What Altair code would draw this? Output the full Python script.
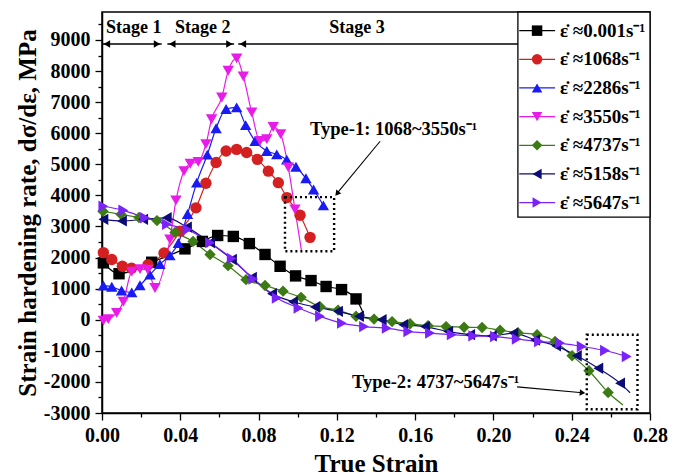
import altair as alt
import pandas as pd

# ---------------- data ----------------
series = ["0.001", "1068", "2286", "3550", "4737", "5158", "5647"]
colors = ["#000000", "#D42020", "#1A1AF5", "#E81CE8", "#3C7A14", "#0C0C78", "#7A22FA"]
shapes = ["square", "circle", "triangle-up", "triangle-down", "diamond",
          "triangle-left", "triangle-right"]

strain_0001 = [0.0007, 0.0087, 0.0254, 0.0424, 0.0513, 0.0591, 0.0671, 0.0753, 0.0833,
               0.0910, 0.0989, 0.1068, 0.1145, 0.1224, 0.1298, 0.1340]
rate_0001 = [1830, 1480, 1850, 2280, 2520, 2710, 2680, 2450, 2100,
             1720, 1410, 1260, 1070, 970, 670, 130]

strain_1068 = [0.0007, 0.0050, 0.0104, 0.0151, 0.0235, 0.0317, 0.0400, 0.0480, 0.0531,
               0.0583, 0.0634, 0.0688, 0.0739, 0.0794, 0.0850, 0.0901, 0.0945, 0.1012, 0.1063]
rate_1068 = [2160, 1940, 1720, 1660, 1770, 2150, 2850, 3600, 4390,
             5060, 5430, 5480, 5380, 5160, 4780, 4410, 3930, 3360, 2650]

strain_2286 = [0.0007, 0.0050, 0.0100, 0.0152, 0.0194, 0.0245, 0.0296, 0.0347, 0.0390,
               0.0437, 0.0484, 0.0538, 0.0583, 0.0634, 0.0688, 0.0734, 0.0782, 0.0842,
               0.0893, 0.0944, 0.0991, 0.1042, 0.1081, 0.1131]
rate_2286 = [1100, 1060, 940, 880, 1110, 1450, 1790, 2070, 2470,
             3400, 4410, 5310, 6160, 6780, 6830, 6260, 5750, 5430,
             5320, 5150, 4920, 4550, 4190, 3680]

strain_3550 = [0.0007, 0.0032, 0.0075, 0.0109, 0.0152, 0.0194, 0.0234, 0.0271, 0.0347,
               0.0378, 0.0419, 0.0451, 0.0492, 0.0531, 0.0560, 0.0612, 0.0645, 0.0688,
               0.0722, 0.0765, 0.0807, 0.0842, 0.0875, 0.0913, 0.0952, 0.0986, 0.1019]
rate_3550 = [-30, 20, 220, 580, 1550, 1630, 1610, 1020, 2580,
             3840, 4780, 5020, 5080, 5650, 6450, 7150, 8010, 8410,
             7830, 6670, 5750, 5810, 6200, 5970, 4900, 3550, 2230]

strain_4737 = [0.0005, 0.0097, 0.0189, 0.0281, 0.0373, 0.0465, 0.0552, 0.0644, 0.0736,
               0.0833, 0.0925, 0.1017, 0.1114, 0.1206, 0.1298, 0.1390, 0.1482, 0.1574,
               0.1666, 0.1758, 0.1850, 0.1942, 0.2034, 0.2125, 0.2223, 0.2315, 0.2402,
               0.2488, 0.2586, 0.2662]
rate_4737 = [3490, 3390, 3290, 3190, 2810, 2520, 2100, 1740, 1290,
             1100, 920, 720, 420, 310, 110, 20, -60, -130,
             -190, -220, -240, -250, -340, -420, -480, -700, -1160,
             -1640, -2340, -2740]

strain_5158 = [0.0007, 0.0102, 0.0210, 0.0331, 0.0434, 0.0552, 0.0664, 0.0766, 0.0869,
               0.0976, 0.1088, 0.1206, 0.1313, 0.1429, 0.1539, 0.1650, 0.1769, 0.1881,
               0.1992, 0.2102, 0.2213, 0.2320, 0.2426, 0.2536, 0.2647, 0.2698]
rate_5158 = [3230, 3180, 3230, 3280, 2980, 2480, 1940, 1360, 840,
             580, 410, 270, 110, 0, -160, -220, -380, -480,
             -520, -430, -650, -840, -1160, -1560, -2040, -2350]

strain_5647 = [0.0007, 0.0109, 0.0220, 0.0332, 0.0437, 0.0552, 0.0663, 0.0773, 0.0893,
               0.1004, 0.1114, 0.1226, 0.1339, 0.1455, 0.1565, 0.1676, 0.1787, 0.1897,
               0.2008, 0.2119, 0.2233, 0.2340, 0.2451, 0.2570, 0.2681]
rate_5647 = [3650, 3520, 3280, 3070, 2900, 2480, 1970, 1310, 700,
             380, 110, -110, -220, -270, -380, -430, -480, -520,
             -540, -620, -700, -750, -860, -990, -1180]

# last point of these curves is the end of the line only (no symbol)
line_only_end = ["0.001", "3550", "4737", "5158"]

x_ticks = [0.00, 0.04, 0.08, 0.12, 0.16, 0.20, 0.24, 0.28]
x_minor = [0.02, 0.06, 0.10, 0.14, 0.18, 0.22, 0.26]
y_ticks = [-3000, -2000, -1000, 0, 1000, 2000, 3000, 4000, 5000, 6000, 7000, 8000, 9000]
y_minor = [-2500, -1500, -500, 500, 1500, 2500, 3500, 4500, 5500, 6500, 7500, 8500, 9500]

legend_labels = ["ε\u0307 ≈" + s + "s⁻¹" for s in series]
stage_labels = ["Stage 1", "Stage 2", "Stage 3"]
type_labels = ["Type-1: 1068~3550s⁻¹", "Type-2: 4737~5647s⁻¹"]

# ---------------- tables ----------------
all_strain = [strain_0001, strain_1068, strain_2286, strain_3550, strain_4737, strain_5158, strain_5647]
all_rate = [rate_0001, rate_1068, rate_2286, rate_3550, rate_4737, rate_5158, rate_5647]
rows = []
for name, ss, rr in zip(series, all_strain, all_rate):
    n = len(ss)
    for i, (s, r) in enumerate(zip(ss, rr)):
        mk = not (name in line_only_end and i == n - 1)
        rows.append({"series": name, "strain": s, "rate": r, "mk": mk})
df = pd.DataFrame(rows)

FONT = "Liberation Serif"
W, H = 548, 401
xs = alt.Scale(domain=[0, 0.28], nice=False, zero=False)
ys = alt.Scale(domain=[-3000, 9900], nice=False, zero=False)
cs = alt.Scale(domain=series, range=colors)
ss_ = alt.Scale(domain=series, range=shapes)


def X(f="strain"):
    return alt.X(f + ":Q", scale=xs, axis=None)


def Y(f="rate"):
    return alt.Y(f + ":Q", scale=ys, axis=None)


lines = alt.Chart(df).mark_line(strokeWidth=1.2, interpolate="monotone").encode(
    x=alt.X("strain:Q", scale=xs,
            axis=alt.Axis(values=x_ticks, format=".2f", title="True Strain", orient="bottom",
                          tickSize=7, labelPadding=5, titlePadding=6, grid=False,
                          labelFlush=False, labelOverlap=False)),
    y=alt.Y("rate:Q", scale=ys,
            axis=alt.Axis(values=y_ticks, labelExpr="datum.value + ''", orient="left",
                          title="Strain hardening rate, dσ/dε, MPa",
                          tickSize=7, labelPadding=5, titlePadding=3, grid=False,
                          labelFlush=False, labelOverlap=False)),
    color=alt.Color("series:N", scale=cs, legend=None),
    detail="series:N",
)

points = alt.Chart(df).transform_filter("datum.mk").mark_point(
    filled=True, size=130, opacity=1).encode(
    x=X(), y=Y(),
    color=alt.Color("series:N", scale=cs, legend=None),
    shape=alt.Shape("series:N", scale=ss_, legend=None),
)

minor = alt.Chart(pd.DataFrame({"strain": [0.1], "rate": [0]})).mark_point(opacity=0).encode(
    x=alt.X("strain:Q", scale=xs,
            axis=alt.Axis(values=x_minor, labels=False, title=None, tickSize=4, domain=False,
                          orient="bottom", grid=False)),
    y=alt.Y("rate:Q", scale=ys,
            axis=alt.Axis(values=y_minor, labels=False, title=None, tickSize=4, domain=False,
                          orient="left", grid=False)),
)

# ---------------- annotations ----------------
ARROW_Y = 8871
stage_df = pd.DataFrame({
    "x1": [0.0, 0.0334, 0.0696],
    "x2": [0.0305, 0.0675, 0.2800],
    "y": [ARROW_Y] * 3,
})
stage_lines = alt.Chart(stage_df).mark_rule(color="black", strokeWidth=1.3).encode(
    x=X("x1"), x2="x2", y=Y("y"))
heads_l = alt.Chart(pd.DataFrame({"strain": [0.0025, 0.0359, 0.0720],
                                  "rate": [ARROW_Y] * 3})).mark_point(
    shape="triangle-left", filled=True, size=55, opacity=1, color="black").encode(x=X(), y=Y())
heads_r = alt.Chart(pd.DataFrame({"strain": [0.0281, 0.0651],
                                  "rate": [ARROW_Y] * 2})).mark_point(
    shape="triangle-right", filled=True, size=55, opacity=1, color="black").encode(x=X(), y=Y())
stage_text_df = pd.DataFrame({"strain": [0.0162, 0.0515, 0.1303], "rate": [9390] * 3,
                              "t": stage_labels})
stage_text = alt.Chart(stage_text_df).mark_text(
    font=FONT, fontWeight="bold", fontSize=18, color="black", baseline="middle").encode(
    x=X(), y=Y(), text="t:N")

boxes_df = pd.DataFrame({"x1": [0.0935, 0.2477], "x2": [0.1186, 0.2736],
                         "y1": [2203, -2881], "y2": [3945, -484]})
boxes = alt.Chart(boxes_df).mark_rect(
    fillOpacity=0, stroke="black", strokeWidth=2.4, strokeDash=[2, 3]).encode(
    x=X("x1"), x2="x2", y=Y("y1"), y2="y2")

arrows_df = pd.DataFrame({"x1": [0.1421, 0.2121], "y1": [5742, -2161],
                          "x2": [0.1205, 0.2455], "y2": [4100, -2350]})
arrow_lines = alt.Chart(arrows_df).mark_rule(color="black", strokeWidth=1.1).encode(
    x=X("x1"), y=Y("y1"), x2="x2", y2="y2")
ahead_df = pd.DataFrame({"strain": [0.1201, 0.2455], "rate": [4060, -2348], "ang": [219, 95]})
arrow_heads = alt.Chart(ahead_df).mark_point(
    shape="triangle-up", filled=True, size=40, opacity=1, color="black").encode(
    x=X(), y=Y(), angle=alt.Angle("ang:Q", scale=None))

type_df = pd.DataFrame({"strain": [0.1063, 0.1277], "rate": [6130, -1990], "t": type_labels})
type_text = alt.Chart(type_df).mark_text(
    font=FONT, fontWeight="bold", fontSize=18.5, color="black", align="left",
    baseline="middle").encode(x=X(), y=Y(), text="t:N")

# ---------------- legend (drawn inside the plot) ----------------
LX0, LX1, LXM, LXT = 0.2132, 0.2315, 0.2223, 0.2340
LY0, LDY = 9300, 922
leg_df = pd.DataFrame({
    "series": series,
    "label": legend_labels,
    "ly": [LY0 - LDY * i for i in range(len(series))],
})
leg_df["lx0"] = LX0
leg_df["lx1"] = LX1
leg_df["lxm"] = LXM
leg_df["lxt"] = LXT

legend_box = alt.Chart(pd.DataFrame({"x1": [0.2125], "x2": [0.28], "y1": [3300], "y2": [9900]})).mark_rect(
    fill="white", stroke="black", strokeWidth=1.3).encode(x=X("x1"), x2="x2", y=Y("y1"), y2="y2")
leg_lines = alt.Chart(leg_df).mark_rule(strokeWidth=1.2).encode(
    x=X("lx0"), x2="lx1", y=Y("ly"), color=alt.Color("series:N", scale=cs, legend=None))
leg_pts = alt.Chart(leg_df).mark_point(filled=True, size=110, opacity=1).encode(
    x=X("lxm"), y=Y("ly"),
    color=alt.Color("series:N", scale=cs, legend=None),
    shape=alt.Shape("series:N", scale=ss_, legend=None))
leg_text = alt.Chart(leg_df).mark_text(
    font=FONT, fontWeight="bold", fontSize=19, color="black", align="left",
    baseline="middle").encode(x=X("lxt"), y=Y("ly"), text="label:N")

chart = alt.layer(
    lines, points, minor,
    stage_lines, heads_l, heads_r, stage_text,
    boxes, arrow_lines, arrow_heads, type_text,
    legend_box, leg_lines, leg_pts, leg_text,
).resolve_axis(x="independent", y="independent").properties(
    width=W, height=H,
    autosize=alt.AutoSizeParams(type="none"),
    padding={"left": 94, "top": 4, "right": 22, "bottom": 62},
).configure_view(stroke="black", strokeWidth=1.5).configure_axis(
    labelFont=FONT, labelFontWeight="bold", labelFontSize=20, labelColor="black",
    titleFont=FONT, titleFontWeight="bold", titleFontSize=25, titleColor="black",
    tickColor="black", domainColor="black", tickWidth=1.3, domainWidth=1.5,
)

chart.save("out.html", embed_options={"renderer": "svg", "actions": False})
